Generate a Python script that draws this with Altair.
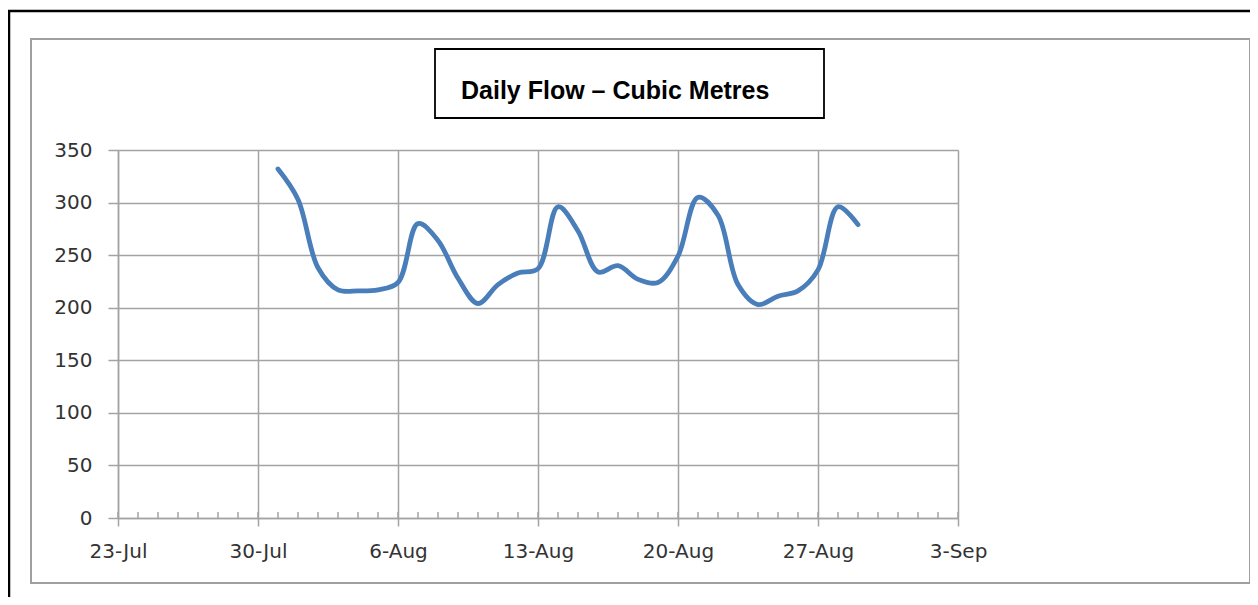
import altair as alt
import pandas as pd

# ---- data ----
dates = pd.date_range("2013-07-31", "2013-08-29", freq="D").strftime("%Y-%m-%d").tolist()
flow = [332, 303, 238, 217, 216, 217, 224, 280, 264, 228,
        204, 222, 233, 237, 296, 273, 234, 240, 227, 224,
        249, 305, 288, 222, 203, 211, 216, 236, 296, 279]
y_ticks = [0, 50, 100, 150, 200, 250, 300, 350]
week_ticks = ["2013-07-23", "2013-07-30", "2013-08-06", "2013-08-13",
              "2013-08-20", "2013-08-27", "2013-09-03"]
minor_days = pd.date_range("2013-07-23", "2013-09-03", freq="D").strftime("%Y-%m-%d").tolist()
title_text = "Daily Flow \u2013 Cubic Metres"

df = pd.DataFrame({"date": dates, "flow": flow})
minor_df = pd.DataFrame({"date": minor_days})

def dt(s):
    y, m, d = map(int, s.split("-"))
    return alt.DateTime(year=y, month=m, date=d, utc=True)

GRID = "#a3a3a3"
LABEL_FONT = "DejaVu Sans"
LABEL_SIZE = 20

xscale = alt.Scale(type="utc", domain=[dt(week_ticks[0]), dt(week_ticks[-1])])

line = alt.Chart(df).mark_line(
    color="#4a7ebb", strokeWidth=4.8, interpolate="catmull-rom", strokeCap="round"
).encode(
    x=alt.X("date:T", scale=xscale, title=None,
            axis=alt.Axis(values=[dt(s) for s in week_ticks], format="%-d-%b",
                          grid=True, gridColor=GRID, gridWidth=1.5,
                          domainColor=GRID, domainWidth=1.5,
                          tickColor=GRID, tickWidth=1.5, tickSize=8,
                          labelFlush=False, labelOverlap=False,
                          labelFont=LABEL_FONT, labelFontSize=LABEL_SIZE, labelColor="#333333",
                          labelPadding=15)),
    y=alt.Y("flow:Q", scale=alt.Scale(domain=[0, 350], nice=False, zero=True), title=None,
            axis=alt.Axis(values=y_ticks, grid=True, gridColor=GRID, gridWidth=1.5,
                          domainColor=GRID, domainWidth=1.5,
                          tickColor=GRID, tickWidth=1.5, tickSize=10,
                          labelFont=LABEL_FONT, labelFontSize=LABEL_SIZE, labelColor="#333333",
                          labelPadding=16)),
)

minor = alt.Chart(minor_df).mark_rule(color=GRID, strokeWidth=1.5).encode(
    x=alt.X("date:T", scale=xscale),
    y=alt.value(362), y2=alt.value(368),
)

one = alt.Data(values=[{"a": 1}])

outer = alt.Chart(one).mark_rect(fill="transparent", stroke="#000000", strokeWidth=2.5).encode(
    x=alt.value(-109), x2=alt.value(1200), y=alt.value(-139), y2=alt.value(500)
)
frame = alt.Chart(one).mark_rect(fill="transparent", stroke="#a0a0a0", strokeWidth=2).encode(
    x=alt.value(-87), x2=alt.value(1132), y=alt.value(-111), y2=alt.value(433)
)
tbox = alt.Chart(one).mark_rect(fill="white", stroke="#000000", strokeWidth=1.8).encode(
    x=alt.value(317), x2=alt.value(706), y=alt.value(-101), y2=alt.value(-32)
)
ttext = alt.Chart(one).mark_text(
    text=title_text, font="Liberation Sans", fontWeight="bold", fontSize=25,
    align="left", baseline="alphabetic", color="#000000"
).encode(x=alt.value(343), y=alt.value(-51))

chart = alt.layer(outer, frame, tbox, ttext, minor, line).properties(
    width=840, height=368,
    autosize=alt.AutoSizeParams(type="none"),
    padding={"left": 110, "top": 142, "right": 292, "bottom": 79},
).configure_view(stroke=None).configure(background="white")

chart.save("out.html", embed_options={"renderer": "svg", "actions": False})
